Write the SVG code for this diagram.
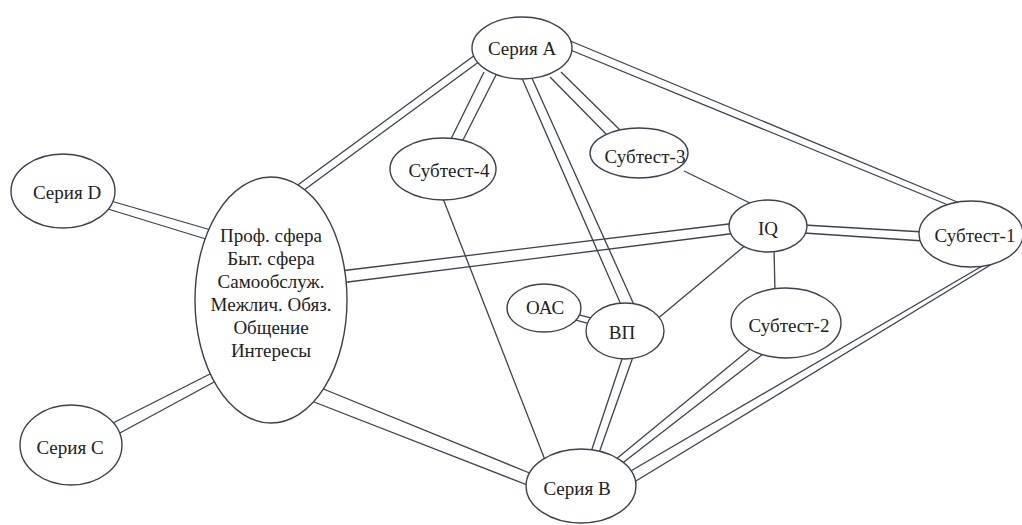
<svg xmlns="http://www.w3.org/2000/svg" width="1022" height="525" viewBox="0 0 1022 525">
<style>
.bg{fill:#ffffff}
.node ellipse{fill:#ffffff;stroke:#3c4150;stroke-width:1.4}
.node text{font-size:19px;fill:#222222;text-anchor:middle;dominant-baseline:central}
#connectors line{stroke:#3c4150;stroke-width:1.3;fill:none}
</style>
<rect class="bg" x="0" y="0" width="1022" height="525"/>
<g id="connectors">
<line x1="475" y1="55" x2="295" y2="187"/>
<line x1="480" y1="61" x2="300" y2="193"/>
<line x1="484" y1="72" x2="449" y2="143"/>
<line x1="496" y1="75" x2="461" y2="144"/>
<line x1="550" y1="77" x2="610" y2="138"/>
<line x1="561" y1="72" x2="621" y2="131"/>
<line x1="521" y1="76" x2="622" y2="307"/>
<line x1="531" y1="76" x2="635" y2="307"/>
<line x1="568" y1="40" x2="962" y2="204"/>
<line x1="568" y1="49" x2="953" y2="207"/>
<line x1="111" y1="201" x2="211" y2="230"/>
<line x1="108" y1="209" x2="209" y2="240"/>
<line x1="111" y1="424" x2="212" y2="373"/>
<line x1="118" y1="434" x2="216" y2="381"/>
<line x1="340" y1="271" x2="737" y2="223"/>
<line x1="340" y1="283" x2="737" y2="233"/>
<line x1="321" y1="388" x2="532" y2="474"/>
<line x1="314" y1="402" x2="530" y2="486"/>
<line x1="623" y1="356" x2="591" y2="452"/>
<line x1="634" y1="354" x2="599" y2="453"/>
<line x1="750" y1="349" x2="615" y2="460"/>
<line x1="763" y1="354" x2="620" y2="465"/>
<line x1="984" y1="265" x2="629" y2="472"/>
<line x1="992" y1="264" x2="631" y2="484"/>
<line x1="804" y1="225" x2="924" y2="232"/>
<line x1="804" y1="233" x2="924" y2="241"/>
<line x1="572.8" y1="313.1" x2="598.8" y2="320.1"/>
<line x1="571.2" y1="318.9" x2="597.2" y2="325.9"/>
<line x1="442" y1="196" x2="545" y2="460"/>
<line x1="684" y1="171" x2="754" y2="205"/>
<line x1="747" y1="244" x2="656" y2="320"/>
<line x1="774" y1="248" x2="775" y2="292"/>
</g>
<g font-family="'Liberation Serif', 'Times New Roman', 'DejaVu Serif', serif">
<g id="seriesA" class="node"><ellipse cx="522" cy="48" rx="50" ry="31"/><text x="522" y="48">Серия A</text></g>
<g id="seriesD" class="node"><ellipse cx="63" cy="191" rx="52" ry="37"/><text x="67" y="192">Серия D</text></g>
<g id="areas" class="node"><ellipse cx="271" cy="300" rx="76" ry="123"/>
<text x="271" y="235">Проф. сфера</text>
<text x="271" y="258">Быт. сфера</text>
<text x="271" y="281">Самообслуж.</text>
<text x="271" y="304">Межлич. Обяз.</text>
<text x="271" y="327">Общение</text>
<text x="271" y="350">Интересы</text>
</g>
<g id="subtest4" class="node"><ellipse cx="443" cy="169" rx="53" ry="31"/><text x="449" y="170">Субтест-4</text></g>
<g id="subtest3" class="node"><ellipse cx="639" cy="153" rx="49" ry="25"/><text x="645" y="156">Субтест-3</text></g>
<g id="iq" class="node"><ellipse cx="768" cy="226" rx="39" ry="26"/><text x="768" y="228">IQ</text></g>
<g id="subtest1" class="node"><ellipse cx="971" cy="234" rx="52" ry="33"/><text x="975" y="235">Субтест-1</text></g>
<g id="oac" class="node"><ellipse cx="544" cy="308" rx="37" ry="24"/><text x="545" y="307">ОАС</text></g>
<g id="vp" class="node"><ellipse cx="625" cy="331" rx="39" ry="28"/><text x="622" y="332">ВП</text></g>
<g id="subtest2" class="node"><ellipse cx="786" cy="323" rx="55" ry="35"/><text x="789" y="325">Субтест-2</text></g>
<g id="seriesB" class="node"><ellipse cx="581" cy="486" rx="55" ry="37"/><text x="577" y="488">Серия B</text></g>
<g id="seriesC" class="node"><ellipse cx="71" cy="445" rx="51" ry="40"/><text x="70" y="447">Серия C</text></g>
</g>
</svg>
